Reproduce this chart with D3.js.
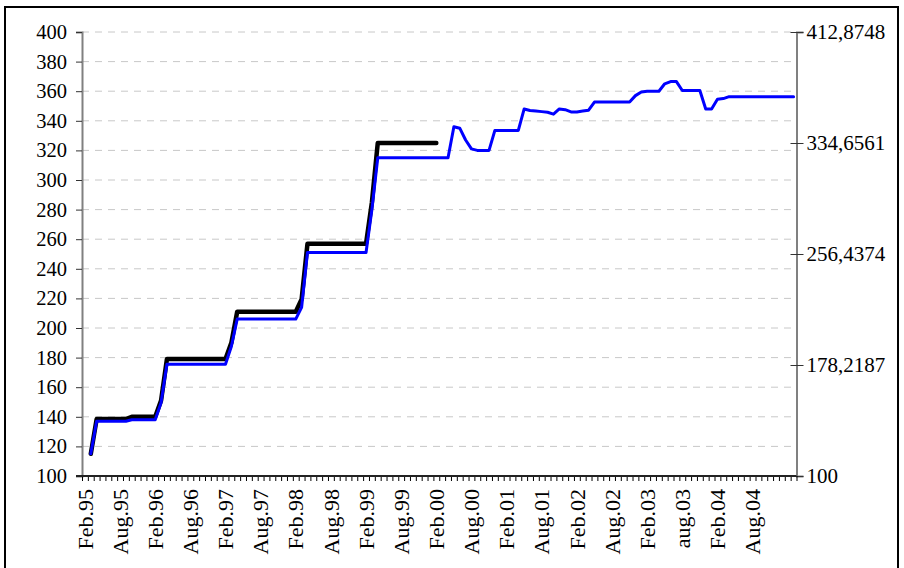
<!DOCTYPE html>
<html>
<head>
<meta charset="utf-8">
<script src="https://cdn.jsdelivr.net/npm/d3@7/dist/d3.min.js"></script>
<style>
  html, body { margin: 0; padding: 0; background: #fff; }
  svg { display: block; font-family: "Liberation Serif", "Times New Roman", serif; }
</style>
</head>
<body>
<svg id="chart" width="904" height="568"></svg>
<script>
// Monthly categories, Feb.95 through Mar.05
const categories = d3.timeMonth.range(new Date(1995, 1, 1), new Date(2005, 3, 1))
  .map(d => d3.timeFormat("%b.%y")(d));

// Labels shown under every sixth month
const tickLabels = ["Feb.95", "Aug.95", "Feb.96", "Aug.96", "Feb.97", "Aug.97", "Feb.98",
  "Aug.98", "Feb.99", "Aug.99", "Feb.00", "Aug.00", "Feb.01", "Aug.01", "Feb.02",
  "Aug.02", "Feb.03", "aug.03", "Feb.04", "Aug.04"];

// Left axis ticks
const leftTicks = [100, 120, 140, 160, 180, 200, 220, 240, 260, 280, 300, 320, 340, 360, 380, 400];
// Right axis ticks
const rightTicks = [100, 178.2187, 256.4374, 334.6561, 412.8748];

// Black series (monthly, ends Feb.00)
const blackSeries = [
  null, 115,
  138.5, 138.5, 138.5, 138.5, 138.5, 138.5,
  140, 140, 140, 140, 140,
  151,
  179, 179, 179, 179, 179, 179, 179, 179, 179, 179, 179,
  190,
  211, 211, 211, 211, 211, 211, 211, 211, 211, 211, 211,
  219.5,
  257, 257, 257, 257, 257, 257, 257, 257, 257, 257, 257,
  285,
  325, 325, 325, 325, 325, 325, 325, 325, 325, 325, 325
];

// Blue series (monthly, full range)
const blueSeries = [
  null, 115,
  137, 137, 137, 137, 137, 137,
  138, 138, 138, 138, 138,
  149.5,
  175.5, 175.5, 175.5, 175.5, 175.5, 175.5, 175.5, 175.5, 175.5, 175.5, 175.5,
  187.5,
  206, 206, 206, 206, 206, 206, 206, 206, 206, 206, 206,
  214,
  251, 251, 251, 251, 251, 251, 251, 251, 251, 251, 251,
  280,
  315, 315, 315, 315, 315, 315, 315, 315, 315, 315, 315, 315, 315,
  336, 335, 327, 321,
  320, 320, 320,
  333.5, 333.5, 333.5, 333.5, 333.5,
  348, 347, 346.6, 346.2, 345.8, 344.5,
  348, 347.5, 346, 346, 346.6, 347.2,
  352.7, 352.7, 352.7, 352.7, 352.7, 352.7, 352.7,
  357, 359.5,
  360, 360, 360,
  365, 366.5, 366.5,
  360.5, 360.5, 360.5, 360.5,
  348, 348, 354.5, 355,
  356.3, 356.3, 356.3, 356.3, 356.3, 356.3, 356.3, 356.3, 356.3, 356.3, 356.3, 356.3
];

const svg = d3.select("#chart");
const plot = { left: 82, right: 796.5, top: 32, bottom: 476 };
const serif = "Liberation Serif, Times New Roman, serif";

// Outer frame
svg.append("rect")
  .attr("x", 5).attr("y", 7).attr("width", 893).attr("height", 580)
  .attr("fill", "none").attr("stroke", "#000").attr("stroke-width", 2);

const x = d3.scaleBand()
  .domain(d3.range(categories.length))
  .range([plot.left, plot.right])
  .paddingInner(0).paddingOuter(0);
const xEdge = d3.scaleLinear()
  .domain([0, categories.length])
  .range([plot.left, plot.right]);
const cx = i => x(i) + x.bandwidth() / 2;

const y = d3.scaleLinear().domain([100, 400]).range([plot.bottom, plot.top]);
const yRight = d3.scaleLinear().domain([100, 412.8748]).range([plot.bottom, plot.top]);

const commaLocale = d3.formatLocale({ decimal: ",", thousands: ".", grouping: [3], currency: ["", ""] });
const fmtRight = commaLocale.format(".4~f");

// Dashed gridlines
svg.append("g")
  .selectAll("line")
  .data(leftTicks.filter(v => v > 100))
  .join("line")
  .attr("x1", plot.left).attr("x2", plot.right)
  .attr("y1", d => y(d)).attr("y2", d => y(d))
  .attr("stroke", "#c8c8c8").attr("stroke-width", 1)
  .attr("stroke-dasharray", "7,6");

// Left axis
const gLeft = svg.append("g")
  .attr("transform", `translate(${plot.left},0)`)
  .call(d3.axisLeft(y).tickValues(leftTicks).tickSize(6).tickPadding(9).tickFormat(d3.format("d")));
gLeft.select(".domain").attr("stroke", "#808080").attr("stroke-width", 2);
gLeft.selectAll(".tick line").attr("stroke", "#333");
gLeft.selectAll(".tick text").attr("font-size", 20.5).attr("fill", "#000").attr("font-family", serif);

// Right axis
const gRight = svg.append("g")
  .attr("transform", `translate(${plot.right},0)`)
  .call(d3.axisRight(yRight).tickValues(rightTicks).tickSize(7).tickPadding(3).tickFormat(fmtRight));
gRight.select(".domain").attr("stroke", "#808080").attr("stroke-width", 2);
gRight.selectAll(".tick line").attr("x1", -6).attr("stroke", "#333");
gRight.selectAll(".tick text").attr("font-size", 21).attr("fill", "#000").attr("font-family", serif);

// Bottom axis: monthly tick marks
const gBottom = svg.append("g")
  .attr("transform", `translate(0,${plot.bottom})`)
  .call(d3.axisBottom(xEdge).tickValues(d3.range(0, categories.length + 1)).tickSize(5).tickFormat(""));
gBottom.select(".domain").remove();
gBottom.selectAll(".tick line").attr("stroke", "#000");
svg.append("line")
  .attr("x1", plot.left - 6).attr("x2", plot.right)
  .attr("y1", plot.bottom).attr("y2", plot.bottom)
  .attr("stroke", "#222").attr("stroke-width", 2);

// Bottom axis: rotated labels every six months
const labelIdx = tickLabels.map((_, k) => k * 6);
const gLabels = svg.append("g")
  .attr("transform", `translate(0,${plot.bottom})`)
  .call(d3.axisBottom(x).tickValues(labelIdx).tickSize(0).tickFormat((d, k) => tickLabels[k]));
gLabels.select(".domain").remove();
gLabels.selectAll(".tick text")
  .attr("font-size", 22).attr("fill", "#000").attr("font-family", serif)
  .attr("text-anchor", "end")
  .attr("transform", "translate(0,13) rotate(-90)")
  .attr("x", 0).attr("y", 0).attr("dy", "0.35em");

// Lines
const line = d3.line()
  .defined(d => d.v != null)
  .x(d => cx(d.i))
  .y(d => y(d.v));

svg.append("path")
  .datum(blackSeries.map((v, i) => ({ i, v })))
  .attr("d", line)
  .attr("fill", "none").attr("stroke", "#000").attr("stroke-width", 4.5)
  .attr("stroke-linejoin", "round").attr("stroke-linecap", "round");

svg.append("path")
  .datum(blueSeries.map((v, i) => ({ i, v })))
  .attr("d", line)
  .attr("fill", "none").attr("stroke", "#0000ff").attr("stroke-width", 3)
  .attr("stroke-linejoin", "round").attr("stroke-linecap", "round");
</script>
</body>
</html>
